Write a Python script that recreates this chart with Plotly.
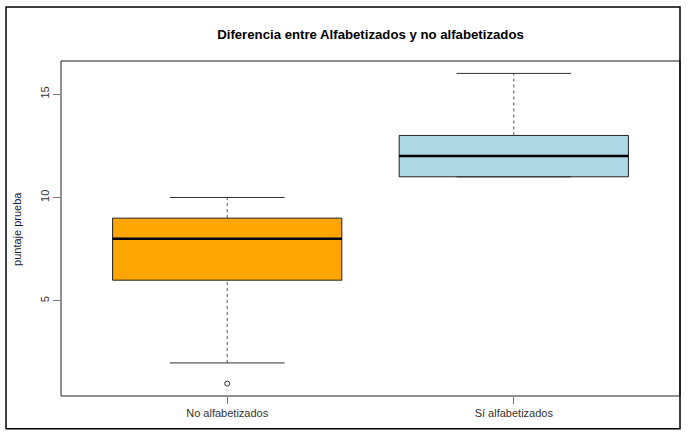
'''
Boxplot of test scores: literate vs. not literate
'''

import plotly.graph_objects as go

# data
groups = ['No alfabetizados', 'Sí alfabetizados']
positions = [1, 2]
q1 = [6, 11]
median = [8, 12]
q3 = [9, 13]
whisker_low = [2, 11]
whisker_high = [10, 16]
outlier_pos = [1]
outlier_val = [1]
fill_colors = ['#FFA500', '#ADD8E6']

BOX_W = 0.8
CAP_W = 0.2

fig = go.Figure()

for i, pos in enumerate(positions):
    # box body only (fences at the quartiles so plotly draws no whiskers)
    fig.add_trace(go.Box(x=[pos], q1=[q1[i]], median=[median[i]], q3=[q3[i]],
                         lowerfence=[q1[i]], upperfence=[q3[i]],
                         width=BOX_W, whiskerwidth=0, boxpoints=False,
                         fillcolor=fill_colors[i],
                         line=dict(color='#222222', width=1),
                         hoverinfo='skip'))

    # dashed whiskers
    fig.add_trace(go.Scatter(x=[pos, pos, None, pos, pos],
                             y=[whisker_low[i], q1[i], None, q3[i], whisker_high[i]],
                             mode='lines',
                             line=dict(color='#555555', width=1, dash='3px,3px'),
                             hoverinfo='skip'))

    # whisker caps
    fig.add_trace(go.Scatter(x=[pos - CAP_W, pos + CAP_W, None, pos - CAP_W, pos + CAP_W],
                             y=[whisker_low[i], whisker_low[i], None,
                                whisker_high[i], whisker_high[i]],
                             mode='lines',
                             line=dict(color='#333333', width=1),
                             hoverinfo='skip'))

    # thick median line
    fig.add_trace(go.Scatter(x=[pos - BOX_W / 2, pos + BOX_W / 2],
                             y=[median[i], median[i]],
                             mode='lines',
                             line=dict(color='black', width=2.5),
                             hoverinfo='skip'))

# outlier
fig.add_trace(go.Scatter(x=outlier_pos, y=outlier_val, mode='markers',
                         marker=dict(symbol='circle-open', size=5,
                                     color='#333333', line=dict(width=1)),
                         hoverinfo='skip'))

fig.update_layout(
    width=689, height=436,
    margin=dict(l=61, r=9, t=61, b=40),
    paper_bgcolor='white', plot_bgcolor='white',
    showlegend=False,
    font=dict(family='Liberation Sans, Arial, sans-serif', size=11, color='#333333'),
    title=dict(text='<b>Diferencia entre Alfabetizados y no alfabetizados</b>',
               x=0.5, xref='paper', xanchor='center',
               y=1 - 34 / 436, yanchor='middle',
               font=dict(size=13.2, color='black')),
    xaxis=dict(range=[0.42, 2.58], tickvals=positions, ticktext=groups,
               showgrid=False, zeroline=False, showline=False,
               ticks='outside', ticklen=7, tickcolor='#777777'),
    yaxis=dict(range=[0.4, 16.6], tickvals=[5, 10, 15], tickangle=-90,
               showgrid=False, zeroline=False, showline=False,
               ticks='outside', ticklen=7, tickcolor='#777777'),
    shapes=[
        # plot box
        dict(type='rect', xref='paper', yref='paper', x0=0, x1=1, y0=0, y1=1,
             line=dict(color='#222222', width=1)),
        # outer frame
        dict(type='rect', xref='paper', yref='paper',
             x0=-0.0888, x1=1.0, y0=-0.098, y1=1.161,
             line=dict(color='black', width=1.5)),
    ],
    annotations=[
        dict(text='puntaje prueba', xref='paper', yref='paper',
             x=-0.072, y=0.5, xanchor='center', yanchor='middle',
             textangle=-90, showarrow=False,
             font=dict(size=11, color='#1a1a3a')),
    ],
)

# drop the default page margin so the figure sits at the window corner
fig.write_html('out.html', config={'displayModeBar': False},
               post_script="document.body.style.margin = '0';")
